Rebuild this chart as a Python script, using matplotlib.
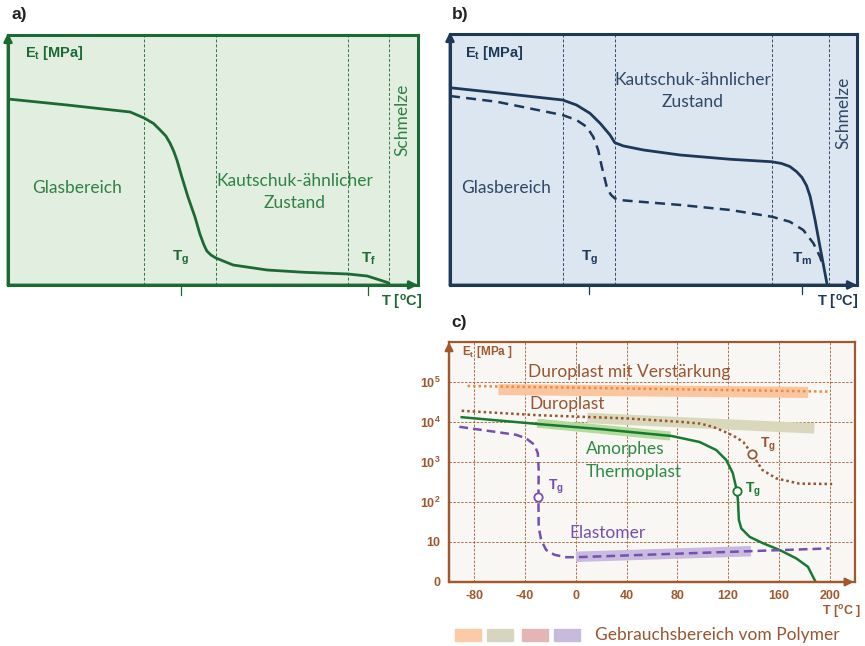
"""Moduli curves of polymers: amorphous (a), semi-crystalline (b), overview (c)."""
import matplotlib
matplotlib.use("Agg")
import matplotlib.pyplot as plt
from matplotlib.patches import Rectangle

W, H = 865, 646

# ---- panel a: amorphous thermoplastic (schematic units 0..100)
A_T = [0, 14.4, 29.8, 33.2, 35.5, 37.1, 38.5, 39.5, 40.4, 41.2, 42.4, 43.9, 45.6,
       46.8, 47.8, 48.5, 49.5, 50.7, 54.9, 63.2, 72.0, 82.9, 87.6, 90.7, 92.9]
A_E = [74.4, 72.0, 69.2, 66.8, 64.6, 62.0, 59.6, 56.8, 53.6, 50.0, 43.2, 35.2, 27.2,
       20.4, 16.0, 13.6, 12.0, 10.8, 8.0, 6.0, 5.1, 4.4, 3.6, 2.0, 0.8]
A_ZONES = [33.2, 50.7, 82.9, 92.9]
A_TG, A_TF = 42.2, 87.8

# ---- panel b: semi-crystalline thermoplastic
B_T = [0, 11.5, 27.7, 31.1, 34.4, 36.9, 39.3, 40.5, 42.6, 47.5, 56.5, 68.8, 79.1,
       81.5, 83.5, 85.2, 86.5, 87.6, 88.5, 89.7, 90.9, 92.6]
B_E = [78.6, 76.6, 73.7, 71.7, 68.4, 64.4, 59.8, 56.7, 55.4, 53.8, 51.8, 50.1, 49.1,
       48.4, 47.2, 45.1, 42.8, 39.6, 35.2, 25.9, 15.3, 0.7]
B_T_DASH = [0, 11.5, 27.7, 31.1, 33.6, 35.2, 36.4, 37.3, 38.5, 39.5, 40.5, 42.0, 44.2,
            56.5, 68.8, 79.1, 83.5, 86.8, 89.3, 90.9, 91.7]
B_E_DASH = [75.3, 73.0, 67.7, 65.7, 63.0, 59.0, 53.8, 47.1, 39.2, 36.0, 34.5, 33.8, 33.5,
            31.9, 29.9, 27.2, 25.2, 21.9, 16.6, 11.3, 7.3]
B_ZONES = [27.8, 40.5, 79.1, 93.1]
B_TG, B_TM = 34.2, 86.5

# ---- panel c: E_t (log decades) vs temperature
C_XTICKS = [-80, -40, 0, 40, 80, 120, 160, 200]
C_YTICKS = [0, 1, 2, 3, 4, 5]
C_YLABELS = ["0", "10", r"10$^{\mathbf{2}}$", r"10$^{\mathbf{3}}$",
             r"10$^{\mathbf{4}}$", r"10$^{\mathbf{5}}$"]

DUROV_T = [-85.4, 198.7]
DUROV_E = [4.90, 4.76]
DURO_T = [-90, -30, 40, 84, 98, 108, 120, 126, 132, 139, 147, 158, 176, 202]
DURO_E = [4.28, 4.17, 4.09, 4.00, 3.96, 3.88, 3.72, 3.62, 3.50, 3.19, 2.80, 2.59, 2.46, 2.45]
AMORPH_T = [-90, -30, 20, 75.5, 84.3, 97.5, 110.6, 118.5, 123.7, 126.9, 127.7, 128.5,
            130.4, 136.9, 147.4, 160.6, 173.7, 182.9, 189]
AMORPH_E = [4.12, 3.95, 3.82, 3.65, 3.59, 3.50, 3.30, 3.05, 2.72, 2.28, 2.05, 1.55,
            1.34, 1.13, 0.97, 0.80, 0.59, 0.38, 0.0]
ELAST_T = [-91.8, -47.1, -39.2, -32.6, -30.0, -29.3, -29.5, -29.5, -29.3, -27.4, -23.4,
           -16.9, -7.7, 0.2, 200]
ELAST_E = [3.88, 3.68, 3.59, 3.43, 3.22, 2.80, 2.13, 2.05, 1.38, 1.05, 0.80, 0.68,
           0.62, 0.62, 0.84]

BAND_DUROV = ([-61, 183], [4.81, 4.74])
BAND_DURO = ([9, 188], [4.10, 3.84])
BAND_AMORPH = ([-30.5, 74.5], [3.97, 3.65])
BAND_ELAST = ([0, 138], [0.63, 0.77])

TG_POINTS = [(-29.5, 2.13), (126.9, 2.28), (139, 3.19)]

# colours
A_BG, A_DARK, A_TXT = "#E2EFE0", "#1C6A33", "#2F8243"
B_BG, B_DARK, B_TXT = "#DCE6F0", "#1D3859", "#2E4867"
C_BG, BROWN, DBROWN = "#F8F7F4", "#A0582C", "#9A5530"
ORANGE, GREEN, PURPLE = "#F08A40", "#177A30", "#7550B0"
LEG_COLORS = ["#FACBA6", "#D6D5C0", "#E5B4B4", "#C7BADC"]

BODY = ["Lato", "DejaVu Sans"]
BOLD = ["Liberation Sans", "DejaVu Sans"]
plt.rcParams["font.family"] = BODY
plt.rcParams["mathtext.fontset"] = "custom"
plt.rcParams["mathtext.rm"] = "Liberation Sans"
plt.rcParams["mathtext.bf"] = "Liberation Sans:bold"
plt.rcParams["mathtext.it"] = "Liberation Sans:italic"

FS = 12.5


def rect(x0, y0, x1, y1):
    return [x0 / W, 1 - y1 / H, (x1 - x0) / W, (y1 - y0) / H]


def ptxt(px, py, s, **kw):
    fig.text(px / W, 1 - py / H, s, **kw)


def arrows(ax, color, lw, top=1.01, right=1.0):
    kw = dict(arrowstyle="-|>", mutation_scale=12, lw=lw, color=color,
              shrinkA=0, shrinkB=0)
    ax.annotate("", xy=(0, top), xytext=(0, 0), xycoords="axes fraction",
                arrowprops=kw, annotation_clip=False)
    ax.annotate("", xy=(right, 0), xytext=(0, 0), xycoords="axes fraction",
                arrowprops=kw, annotation_clip=False)


def schematic(ax, bg, dark, zones):
    ax.set_facecolor(bg)
    ax.set_xlim(0, 100)
    ax.set_ylim(0, 100)
    ax.set_xticks([])
    ax.set_yticks([])
    for s in ax.spines.values():
        s.set_color(dark)
        s.set_linewidth(2.2)
    for z in zones:
        ax.axvline(z, color=dark, lw=0.7, ls=(0, (3, 2)), alpha=0.9)


fig = plt.figure(figsize=(W / 100, H / 100), dpi=100)

# ---------------- a)
axa = fig.add_axes(rect(8, 35, 418, 285))
schematic(axa, A_BG, A_DARK, A_ZONES)
axa.plot(A_T, A_E, color=A_DARK, lw=2.0, solid_capstyle="round")
for t in (A_TG, A_TF):
    axa.plot([t, t], [0, -4], color=A_DARK, lw=0.9, clip_on=False)
arrows(axa, A_DARK, 2.0, top=1.008)
axa.text(4.1, 92.8, r"$\mathbf{E_t}$ [MPa]", family=BOLD, weight="bold",
         fontsize=10.5, color=A_DARK, va="center")
axa.text(16.8, 38.8, "Glasbereich", fontsize=FS, color=A_TXT, ha="center", va="center")
axa.text(70, 41.6, "Kautschuk-ähnlicher", fontsize=FS, color=A_TXT, ha="center", va="center")
axa.text(70, 32.8, "Zustand", fontsize=FS, color=A_TXT, ha="center", va="center")
axa.text(96.3, 66, "Schmelze", fontsize=FS, color=A_TXT, ha="center", va="center",
         rotation=90)
axa.text(A_TG, 10.8, r"$\mathbf{T_g}$", fontsize=11, color=A_DARK, ha="center", va="center")
axa.text(A_TF, 10.6, r"$\mathbf{T_f}$", fontsize=11, color=A_DARK, ha="center", va="center")
ptxt(402, 302, r"T [$^{\mathbf{o}}$C]", family=BOLD, weight="bold", fontsize=10.5,
     color=A_DARK, ha="center", va="center")
ptxt(12, 15, "a)", family=BOLD, weight="bold", fontsize=12.5, color="#222222",
     ha="left", va="center")

# ---------------- b)
axb = fig.add_axes(rect(450, 34, 857, 285))
schematic(axb, B_BG, B_DARK, B_ZONES)
axb.plot(B_T, B_E, color=B_DARK, lw=2.0, solid_capstyle="round")
axb.plot(B_T_DASH, B_E_DASH, color=B_DARK, lw=1.8, ls=(0, (4, 2.5)))
for t in (B_TG, B_TM):
    axb.plot([t, t], [0, -3.5], color=B_DARK, lw=0.9, clip_on=False)
arrows(axb, B_DARK, 2.0, top=1.008)
axb.text(3.7, 92.4, r"$\mathbf{E_t}$ [MPa]", family=BOLD, weight="bold",
         fontsize=10.5, color=B_DARK, va="center")
axb.text(13.8, 38.6, "Glasbereich", fontsize=FS, color=B_TXT, ha="center", va="center")
axb.text(59.7, 81.7, "Kautschuk-ähnlicher", fontsize=FS, color=B_TXT, ha="center", va="center")
axb.text(59.7, 72.9, "Zustand", fontsize=FS, color=B_TXT, ha="center", va="center")
axb.text(96.6, 68.5, "Schmelze", fontsize=FS, color=B_TXT, ha="center", va="center",
         rotation=90)
axb.text(B_TG, 10.8, r"$\mathbf{T_g}$", fontsize=11, color=B_DARK, ha="center", va="center")
axb.text(B_TM, 10.4, r"$\mathbf{T_m}$", fontsize=11, color=B_DARK, ha="center", va="center")
ptxt(838, 302, r"T [$^{\mathbf{o}}$C]", family=BOLD, weight="bold", fontsize=10.5,
     color=B_DARK, ha="center", va="center")
ptxt(452, 15, "b)", family=BOLD, weight="bold", fontsize=12.5, color="#222222",
     ha="left", va="center")

# ---------------- c)
axc = fig.add_axes(rect(449, 342, 855, 582))
axc.set_facecolor(C_BG)
axc.set_xlim(-100, 220)
axc.set_ylim(0, 6)
for s in axc.spines.values():
    s.set_color(BROWN)
    s.set_linewidth(1.6)
axc.set_xticks(C_XTICKS, [str(v) for v in C_XTICKS])
axc.set_yticks(C_YTICKS, C_YLABELS)
axc.tick_params(length=0, colors=BROWN, labelsize=9)
axc.tick_params(axis="x", pad=6)
axc.tick_params(axis="y", pad=6)
for lab in axc.get_xticklabels() + axc.get_yticklabels():
    lab.set_family(BOLD)
    lab.set_fontweight("bold")
for x in C_XTICKS:
    axc.axvline(x, color=BROWN, lw=0.7, ls=(0, (2.5, 1.5)), alpha=0.85, zorder=1)
for y in C_YTICKS[1:]:
    axc.axhline(y, color=BROWN, lw=0.7, ls=(0, (2.5, 1.5)), alpha=0.85, zorder=1)

band_kw = dict(solid_capstyle="butt", zorder=2)
axc.plot(*BAND_DUROV, color="#F9C6A0", lw=8, **band_kw)
axc.plot(*BAND_DURO, color="#D9D8BC", lw=7.5, **band_kw)
axc.plot(*BAND_AMORPH, color="#B3DB9C", lw=6.5, **band_kw)
axc.plot(*BAND_ELAST, color="#C9BADF", lw=7.5, **band_kw)

axc.plot(DUROV_T, DUROV_E, color=ORANGE, lw=1.8, ls=(0, (1, 1.2)), zorder=3)
axc.plot(DURO_T, DURO_E, color=DBROWN, lw=1.8, ls=(0, (1, 1.2)), zorder=3)
axc.plot(AMORPH_T, AMORPH_E, color=GREEN, lw=1.8, zorder=3)
axc.plot(ELAST_T, ELAST_E, color=PURPLE, lw=1.8, ls=(0, (3.5, 2)), zorder=3)
for (t, e), col in zip(TG_POINTS, [PURPLE, GREEN, DBROWN]):
    axc.plot(t, e, "o", ms=6, mfc="white", mec=col, mew=1.3, zorder=4)

axc.text(-21.6, 2.38, r"$\mathbf{T_g}$", fontsize=10, color=PURPLE, va="center")
axc.text(133, 2.30, r"$\mathbf{T_g}$", fontsize=10, color=GREEN, va="center")
axc.text(144.8, 3.43, r"$\mathbf{T_g}$", fontsize=10, color=DBROWN, va="center")

axc.text(-37.5, 5.25, "Duroplast mit Verstärkung", fontsize=FS, color=DBROWN, va="center")
axc.text(-36.7, 4.45, "Duroplast", fontsize=FS, color=DBROWN, va="center")
axc.text(8.1, 3.32, "Amorphes", fontsize=FS, color="#2E8B47", va="center")
axc.text(8.1, 2.74, "Thermoplast", fontsize=FS, color="#2E8B47", va="center")
axc.text(-5, 1.22, "Elastomer", fontsize=FS, color=PURPLE, va="center")
axc.text(-89.7, 5.75, r"$\mathbf{E_t}$ [MPa ]", family=BOLD, weight="bold",
         fontsize=8.5, color=BROWN, va="center")
arrows(axc, BROWN, 1.6, top=1.0, right=0.997)
ptxt(842, 612, r"T [$^{\mathbf{o}}$C ]", family=BOLD, weight="bold", fontsize=9,
     color=BROWN, ha="center", va="center")
ptxt(451, 322, "c)", family=BOLD, weight="bold", fontsize=12.5, color="#222222",
     ha="left", va="center")

# legend row
for i, col in enumerate(LEG_COLORS):
    x0 = [455, 487, 522, 554][i]
    fig.add_artist(Rectangle((x0 / W, 1 - 641 / H), 26 / W, 12 / H, color=col,
                             transform=fig.transFigure))
ptxt(595, 635, "Gebrauchsbereich vom Polymer", fontsize=FS, color=DBROWN,
     ha="left", va="center")

fig.savefig("out.png", dpi=100, facecolor="white")
